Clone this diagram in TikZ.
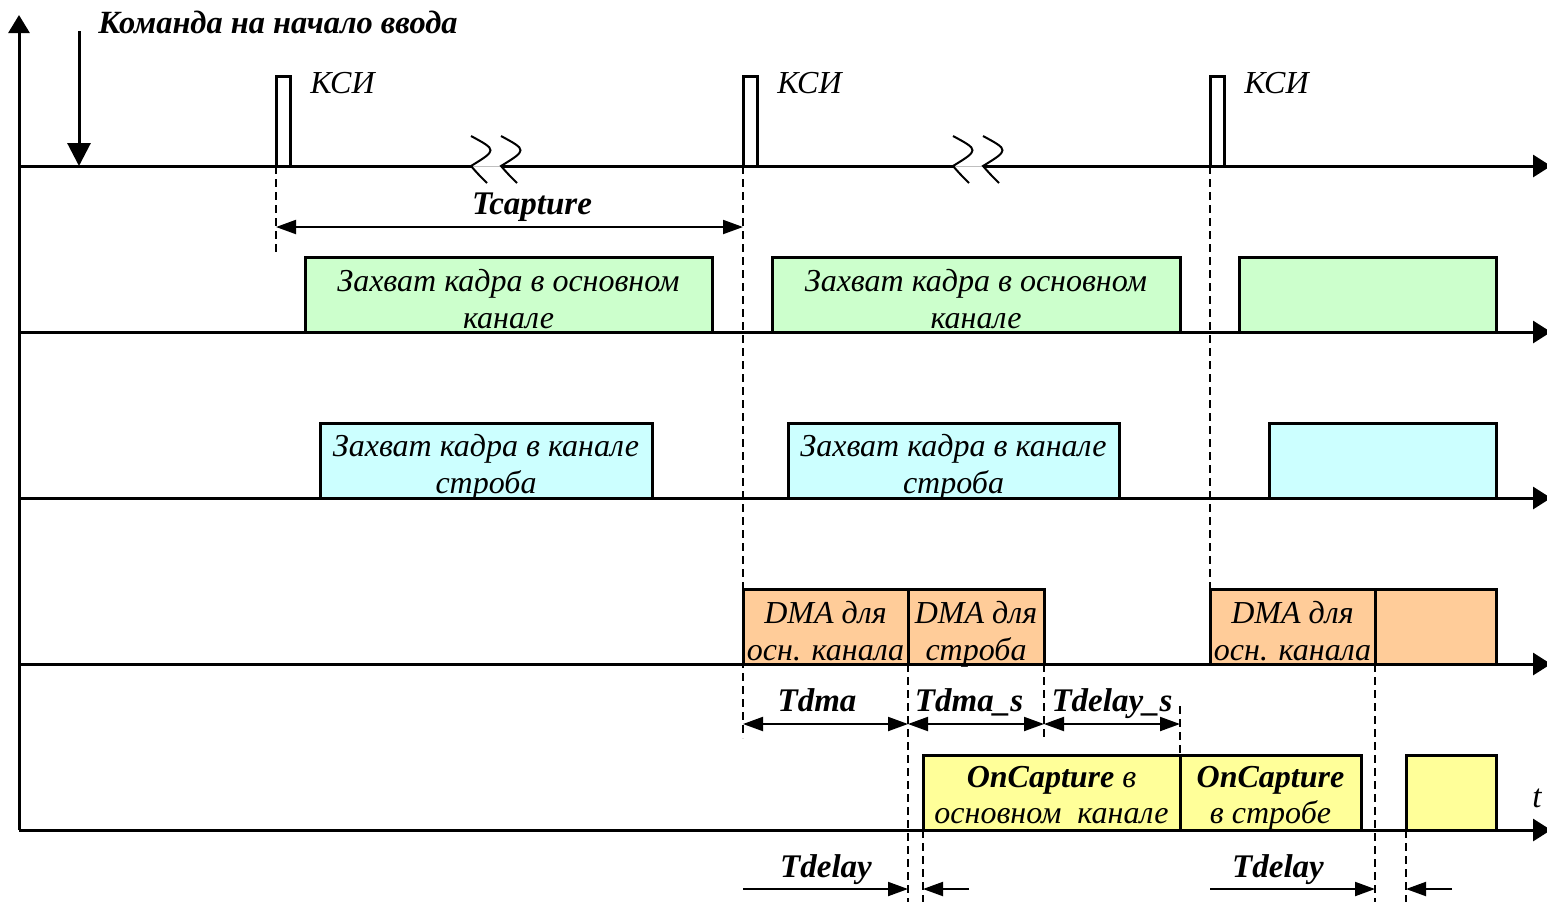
\documentclass[tikz,border=0pt]{standalone}
\usepackage{fontspec}
\setmainfont{Liberation Serif}
\usetikzlibrary{arrows.meta}
\definecolor{capgreen}{HTML}{CCFFCC}
\definecolor{capcyan}{HTML}{CCFFFF}
\definecolor{dmaorange}{HTML}{FFCC99}
\definecolor{cbyellow}{HTML}{FFFF99}

\begin{document}
\begin{tikzpicture}[x=0.5pt,y=-0.5pt,
  axis/.style={line width=1.5pt,-{Triangle[length=9pt,width=11pt]}},
  pulse/.style={line width=1.5pt},
  slot/.style={draw,line width=1.5pt},
  guide/.style={line width=0.6pt,dash pattern=on 4pt off 2.5pt},
  span/.style={line width=1pt,{Triangle[length=10pt,width=7pt]}-{Triangle[length=10pt,width=7pt]}},
  lead/.style={line width=1pt,-{Triangle[length=10pt,width=7pt]}},
  brk/.style={line width=1pt},
  boxtext/.style={font=\fontsize{16}{18}\selectfont\itshape,anchor=base,inner sep=0pt},
  tlabel/.style={font=\fontsize{16.5}{18}\selectfont\bfseries\itshape,anchor=base,inner sep=0pt},
  ksi/.style={font=\fontsize{16}{18}\selectfont\itshape,anchor=base west,inner sep=0pt}
]
\useasboundingbox (0,0) rectangle (1547,902);

% ---- axes ----
\coordinate (O) at (19,830);
\coordinate (Ytop) at (19,15);
\draw[axis,-{Triangle[length=9pt,width=10.5pt]}] (O) -- (Ytop);

\foreach \i/\y in {2/332,3/498,4/664,5/830}{
  \coordinate (L\i) at (19,\y);
  \coordinate (R\i) at (1551,\y);
  \draw[axis] (L\i) -- (R\i);
}

% top axis with two breaks
\coordinate (L1) at (19,166);
\coordinate (B1a) at (471,166);
\coordinate (B1b) at (501,166);
\coordinate (B2a) at (953,166);
\coordinate (B2b) at (983,166);
\coordinate (R1) at (1551,166);
\draw[line width=1.5pt] (L1) -- (B1a);
\draw[line width=1.5pt] (B1b) -- (B2a);
\draw[axis] (B2b) -- (R1);
\draw[line width=0.4pt,black!25] (B1a) -- (B1b);
\draw[line width=0.4pt,black!25] (B2a) -- (B2b);
\foreach \bx in {471,501,953,983}{
  \draw[brk] (\bx,136) .. controls (\bx+26,150) .. (\bx,166) .. controls (\bx+7,174) .. (\bx+16,183);
}

% ---- start command ----
\coordinate (cmdTop) at (79,31);
\coordinate (cmdBot) at (79,166);
\draw[line width=1.5pt,-{Triangle[length=11.5pt,width=11.5pt]}] (cmdTop) -- (cmdBot);
\node[tlabel,font=\fontsize{16.2}{18}\selectfont\bfseries\itshape,anchor=base west] (cmd) at (98,33) {Команда на начало ввода};

% ---- frame sync pulses ----
\foreach \px/\n in {276/1,743/2,1210/3}{
  \draw[pulse] (\px,166) -- (\px,76) -- (\px+14,76) -- (\px+14,166);
  \node[ksi] (ksi\n) at (\px+34,93) {КСИ};
}

% ---- dashed guides ----
\foreach \gx/\ya/\yb/\n in {276/166/255/a,743/166/738/b,1210/166/589/c,908/664/902/d,1044/664/740/e,1180/706/755/f,1375/664/902/g,923/830/902/h,1406/830/902/i}{
  \coordinate (G\n t) at (\gx,\ya);
  \coordinate (G\n b) at (\gx,\yb);
  \draw[guide] (G\n t) -- (G\n b);
}

% ---- Tcapture ----
\coordinate (TcA) at (276,227);
\coordinate (TcB) at (743,227);
\draw[span] (TcA) -- (TcB);
\node[tlabel] (tcap) at (532,214) {Tcapture};

% ---- main channel capture ----
\draw[slot,fill=capgreen] (305,257) rectangle (712,332);
\draw[slot,fill=capgreen] (772,257) rectangle (1180,332);
\draw[slot,fill=capgreen] (1239,257) rectangle (1496,332);
\node[boxtext] (g1a) at (508.5,291) {Захват кадра в основном};
\node[boxtext] (g1b) at (508.5,328) {канале};
\node[boxtext] (g2a) at (976,291) {Захват кадра в основном};
\node[boxtext] (g2b) at (976,328) {канале};

% ---- strobe channel capture ----
\draw[slot,fill=capcyan] (320,423) rectangle (652,498);
\draw[slot,fill=capcyan] (788,423) rectangle (1119,498);
\draw[slot,fill=capcyan] (1269,423) rectangle (1496,498);
\node[boxtext] (c1a) at (486,456) {Захват кадра в канале};
\node[boxtext] (c1b) at (486,493) {строба};
\node[boxtext] (c2a) at (953.5,456) {Захват кадра в канале};
\node[boxtext] (c2b) at (953.5,493) {строба};

% ---- DMA ----
\draw[slot,fill=dmaorange] (743,589) rectangle (908,664);
\draw[slot,fill=dmaorange] (908,589) rectangle (1044,664);
\draw[slot,fill=dmaorange] (1210,589) rectangle (1375,664);
\draw[slot,fill=dmaorange] (1375,589) rectangle (1496,664);
\node[boxtext] (d1a) at (825.5,623) {DMA для};
\node[boxtext] (d1b) at (825.5,660) {осн. канала};
\node[boxtext] (d2a) at (976,623) {DMA для};
\node[boxtext] (d2b) at (976,660) {строба};
\node[boxtext] (d3a) at (1292.5,623) {DMA для};
\node[boxtext] (d3b) at (1292.5,660) {осн. канала};

% ---- DMA intervals ----
\coordinate (Ta) at (743,724);
\coordinate (Tb) at (908,724);
\coordinate (Tc) at (1044,724);
\coordinate (Td) at (1180,724);
\draw[span] (Ta) -- (Tb);
\draw[span] (Tb) -- (Tc);
\draw[span] (Tc) -- (Td);
\node[tlabel] (tdma) at (817,711) {Tdma};
\node[tlabel] (tdmas) at (969,711) {Tdma\_s};
\node[tlabel] (tdels) at (1112,711) {Tdelay\_s};

% ---- OnCapture ----
\draw[slot,fill=cbyellow] (923,755) rectangle (1180,830);
\draw[slot,fill=cbyellow] (1180,755) rectangle (1361,830);
\draw[slot,fill=cbyellow] (1406,755) rectangle (1496,830);
\node[boxtext] (y1a) at (1051.5,787) {\textbf{OnCapture} в};
\node[boxtext] (y1b) at (1051.5,823) {основном\ \ канале};
\node[boxtext] (y2a) at (1270.5,787) {\textbf{OnCapture}};
\node[boxtext] (y2b) at (1270.5,823) {в стробе};
\node[font=\fontsize{16.5}{18}\selectfont\itshape,anchor=base,inner sep=0pt] (tt) at (1537,807) {t};

% ---- Tdelay ----
\coordinate (Da) at (743,889);
\coordinate (Db) at (908,889);
\coordinate (Dc) at (969,889);
\coordinate (Dd) at (923,889);
\draw[lead] (Da) -- (Db);
\draw[lead] (Dc) -- (Dd);
\node[tlabel] (tdel1) at (826,877) {Tdelay};
\coordinate (Ea) at (1210,889);
\coordinate (Eb) at (1375,889);
\coordinate (Ec) at (1452,889);
\coordinate (Ed) at (1406,889);
\draw[lead] (Ea) -- (Eb);
\draw[lead] (Ec) -- (Ed);
\node[tlabel] (tdel2) at (1278,877) {Tdelay};
\end{tikzpicture}
\end{document}
